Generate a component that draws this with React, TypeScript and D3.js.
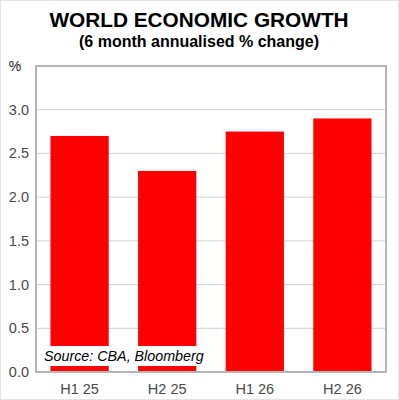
import React from 'react';
import * as d3 from 'd3';

const categories = ['H1 25', 'H2 25', 'H1 26', 'H2 26'];
const growth = [2.7, 2.3, 2.75, 2.9];
const yTicks = [0, 0.5, 1.0, 1.5, 2.0, 2.5, 3.0, 3.5];

const App = () => {
  const width = 399, height = 400;
  const left = 36, right = 386, top = 66, bottom = 372;

  const x = d3.scaleBand().domain(categories).range([left, right]).paddingInner(0.335).paddingOuter(0.165);
  const y = d3.scaleLinear().domain([0, 3.5]).range([bottom, top]);
  const font = 'Arial, "Liberation Sans", sans-serif';

  return (
    <svg width={width} height={height} style={{ position: 'absolute', left: 0, top: 0 }} fontFamily={font}>
      <rect x={0.5} y={0.5} width={width - 1} height={height - 1} fill="#fff" stroke="#e4e4e4" />
      <text x={199} y={27} textAnchor="middle" fontSize={20.8} fontWeight="bold" fill="#000">WORLD ECONOMIC GROWTH</text>
      <text x={199} y={47} textAnchor="middle" fontSize={16} fontWeight="bold" fill="#000">(6 month annualised % change)</text>
      <text x={15} y={71} textAnchor="middle" fontSize={14} fill="#222">%</text>
      {yTicks.slice(1, -1).map(t => (
        <line key={t} x1={left} x2={right} y1={y(t)} y2={y(t)} stroke="#d9d9d9" strokeWidth={1.2} />
      ))}
      {yTicks.slice(0, -1).map(t => (
        <text key={'l' + t} x={29} y={y(t) + 5} textAnchor="end" fontSize={14.5} fill="#4a4a4a">{d3.format('.1f')(t)}</text>
      ))}
      {categories.map((c, i) => (
        <rect key={c} x={x(c)} y={y(growth[i])} width={x.bandwidth()} height={y(0) - y(growth[i])} fill="#ff0000" />
      ))}
      <rect x={left} y={top} width={right - left} height={bottom - top} fill="none" stroke="#b5b5b5" strokeWidth={2} />
      {categories.map(c => (
        <text key={'x' + c} x={(x(c) as number) + x.bandwidth() / 2} y={394} textAnchor="middle" fontSize={14.5} fill="#4a4a4a">{c}</text>
      ))}
      <rect x={41} y={346} width={166} height={20} fill="#fff" />
      <text x={44} y={361} fontSize={14.3} fontStyle="italic" fill="#000">Source: CBA, Bloomberg</text>
    </svg>
  );
};

export default App;
